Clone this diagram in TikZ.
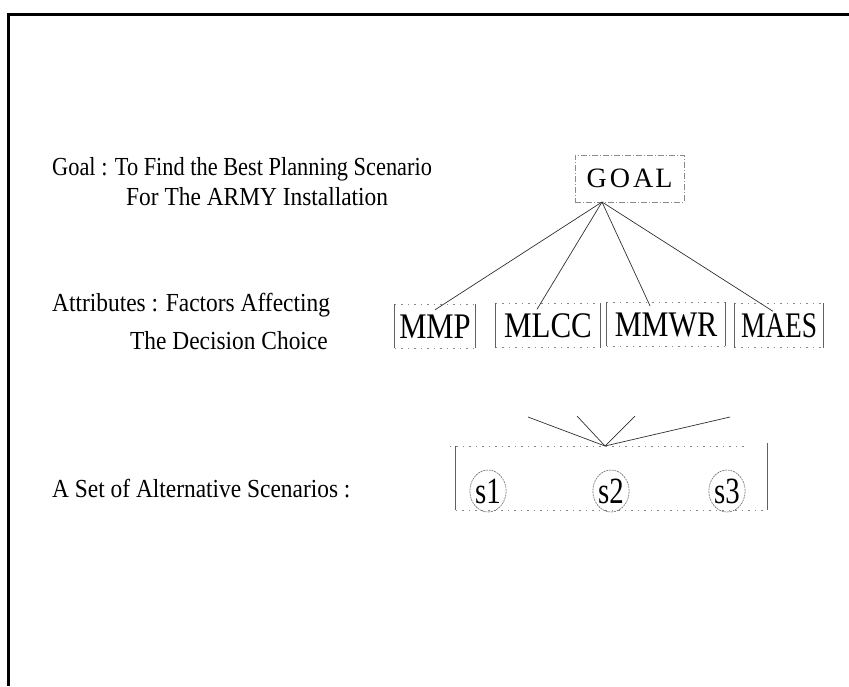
\documentclass[tikz,border=0pt]{standalone}
\usepackage{fontspec}
\setmainfont{Liberation Serif}
\usetikzlibrary{shapes.geometric,calc}
\newcommand\squeeze[2]{\scalebox{#1}[1]{#2}}
\definecolor{edge}{HTML}{8A8A8A}
\definecolor{wire}{HTML}{303030}
\tikzset{
  lefttext/.style={anchor=base west,inner sep=0pt,font=\fontsize{26}{28}\selectfont},
  attrbox/.style={minimum height=44pt,inner sep=0pt,text height=24pt,text depth=0pt,
    font=\fontsize{36}{38}\selectfont},
  dotline/.style={draw=edge,line width=0.6pt,dash pattern=on 1.5pt off 5pt},
  sideline/.style={draw=edge!70!black,line width=0.9pt},
  fan/.style={draw=wire,line width=0.7pt},
  scen/.style={ellipse,draw=edge!80!black,line width=0.6pt,dash pattern=on 2pt off 0.8pt,
    minimum width=31pt,minimum height=42pt,inner sep=0pt,text height=25pt,text depth=0pt,
    font=\fontsize{37}{39}\selectfont}
}
\begin{document}
\begin{tikzpicture}[x=1pt,y=-1pt]
\useasboundingbox (0,0) rectangle (849,686);
% page frame (only top and left edges fall inside)
\draw[line width=3pt] (8.5,686) -- (8.5,14) -- (849,14);

% left-hand captions
\node[lefttext] (goaltxt) at (52,175) {\squeeze{0.86}{Goal : To Find the Best Planning Scenario}};
\node[lefttext] (goaltxt2) at (126,205) {\squeeze{0.9}{For The ARMY Installation}};
\node[lefttext] (attrtxt) at (52,311) {\squeeze{0.9}{Attributes : Factors Affecting}};
\node[lefttext] (attrtxt2) at (130,349) {\squeeze{0.9}{The Decision Choice}};
\node[lefttext] (alttxt) at (52,497) {\squeeze{0.9}{A Set of Alternative Scenarios :}};

% goal box
\node[draw=edge,line width=0.7pt,dash pattern=on 6pt off 2pt on 1pt off 2pt,
      minimum width=109pt,minimum height=47pt,inner sep=0pt,text height=18pt,text depth=0pt,
      font=\fontsize{28}{30}\selectfont] (goal) at (629.5,178.5)
      {G\hspace{3pt}O\hspace{3pt}A\hspace{2pt}L};
\coordinate (gapex) at (602,202);

% attribute boxes
\node[attrbox,minimum width=80pt]  (mmp)  at (435,326) {\squeeze{0.85}{MMP}};
\node[attrbox,minimum width=104pt] (mlcc) at (548,325.5) {\squeeze{0.86}{MLCC}};
\node[attrbox,minimum width=118pt] (mmwr) at (666,324) {\squeeze{0.84}{MMWR}};
\node[attrbox,minimum width=88pt]  (maes) at (779,325.5) {\squeeze{0.76}{MAES}};
\foreach \b in {mmp,mlcc,mmwr,maes}{
  \draw[dotline] (\b.north west) -- (\b.north east);
  \draw[dotline] (\b.south west) -- (\b.south east);
  \draw[sideline] (\b.north west) -- (\b.south west);
  \draw[sideline] (\b.north east) -- (\b.south east);
}

% goal to attributes
\draw[fan] (gapex) -- ([yshift=-6pt]mmp.north);
\draw[fan] (gapex) -- ([xshift=-11pt,yshift=-6pt]mlcc.north);
\draw[fan] (gapex) -- ([xshift=-16pt,yshift=-4pt]mmwr.north);
\draw[fan] (gapex) -- ([xshift=-6pt,yshift=-8pt]maes.north);

% alternatives box
\node[minimum width=311pt,minimum height=64pt,inner sep=0pt] (alts) at (611.5,478) {};
\draw[dotline] ([xshift=-6pt]alts.north west) -- ([xshift=-22pt]alts.north east);
\draw[dotline] (alts.south west) -- (alts.south east);
\draw[sideline] (alts.north west) -- (alts.south west);
\draw[sideline] ([yshift=3pt]alts.north east) -- (alts.south east);
\coordinate (aapex) at (605,446);
\coordinate (f1) at (528,417);
\coordinate (f2) at (577,416);
\coordinate (f3) at (635,416);
\coordinate (f4) at (730,417);
\foreach \f in {f1,f2,f3,f4}{\draw[fan] (aapex) -- (\f);}

% scenarios
\node[scen] (s1) at (488,491) {\squeeze{0.78}{s1}};
\node[scen] (s2) at (611,491) {\squeeze{0.78}{s2}};
\node[scen] (s3) at (727,491) {\squeeze{0.78}{s3}};
\end{tikzpicture}
\end{document}
